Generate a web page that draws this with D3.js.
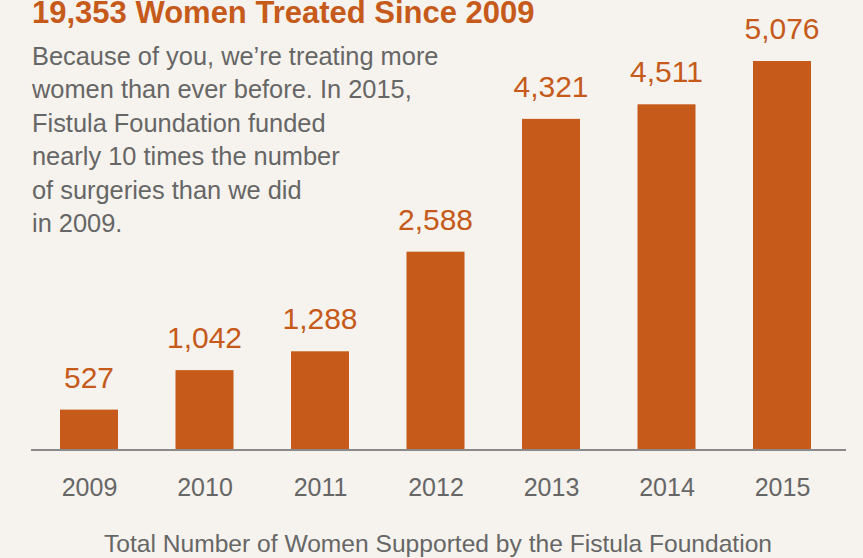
<!DOCTYPE html>
<html>
<head>
<meta charset="utf-8">
<script src="https://cdn.jsdelivr.net/npm/d3@7"></script>
<style>
  html, body { margin: 0; padding: 0; background: #f6f3ee; }
  svg { display: block; }
  text { font-family: "Liberation Sans", Arial, Helvetica, sans-serif; }
</style>
</head>
<body>
<svg id="chart" width="863" height="558"></svg>
<script>
const years = ["2009", "2010", "2011", "2012", "2013", "2014", "2015"];
const women = [527, 1042, 1288, 2588, 4321, 4511, 5076];
const titleText = "19,353 Women Treated Since 2009";
const introLines = [
  "Because of you, we\u2019re treating more",
  "women than ever before. In 2015,",
  "Fistula Foundation funded",
  "nearly 10 times the number",
  "of surgeries than we did",
  "in 2009."
];
const captionText = "Total Number of Women Supported by the Fistula Foundation";

const orange = "#c55a1a";
const grey = "#666666";

const svg = d3.select("#chart");
const W = 863, H = 558;
svg.append("rect").attr("width", W).attr("height", H).attr("fill", "#f6f3ee");

const x = d3.scalePoint().domain(years).range([89, 782]);
const barW = 58;
const y = d3.scaleLinear().domain([0, 5076]).range([450, 61]);

const data = years.map((yr, i) => ({ year: yr, value: women[i] }));

svg.append("g").selectAll("rect").data(data).join("rect")
  .attr("x", d => x(d.year) - barW / 2)
  .attr("y", d => y(d.value))
  .attr("width", barW)
  .attr("height", d => y(0) - y(d.value))
  .attr("fill", orange);

svg.append("g").selectAll("text").data(data).join("text")
  .attr("x", d => x(d.year))
  .attr("y", d => y(d.value) - 22)
  .attr("text-anchor", "middle")
  .attr("font-size", 30)
  .attr("fill", orange)
  .text(d => d3.format(",")(d.value));

// axis
const axis = d3.axisBottom(x).tickSize(0).tickPadding(0);
const gx = svg.append("g").attr("transform", `translate(0,${y(0)})`).call(axis);
gx.select(".domain").remove();
gx.append("line").attr("x1", 31).attr("x2", 846).attr("y1", 0).attr("y2", 0)
  .attr("stroke", "#8a8a8a").attr("stroke-width", 2);
gx.selectAll(".tick text")
  .attr("dy", null)
  .attr("y", 46)
  .attr("font-size", 25)
  .attr("font-family", "Liberation Sans, Arial, sans-serif")
  .attr("fill", grey);

svg.append("text")
  .attr("x", 32).attr("y", 23)
  .attr("font-size", 31).attr("font-weight", "bold")
  .attr("fill", orange)
  .text(titleText);

svg.append("g").selectAll("text").data(introLines).join("text")
  .attr("x", 32)
  .attr("y", (d, i) => 65 + i * 33.4)
  .attr("font-size", 25.4)
  .attr("fill", grey)
  .text(d => d);

svg.append("text")
  .attr("x", 438).attr("y", 552)
  .attr("text-anchor", "middle")
  .attr("font-size", 24.6)
  .attr("fill", grey)
  .text(captionText);
</script>
</body>
</html>
